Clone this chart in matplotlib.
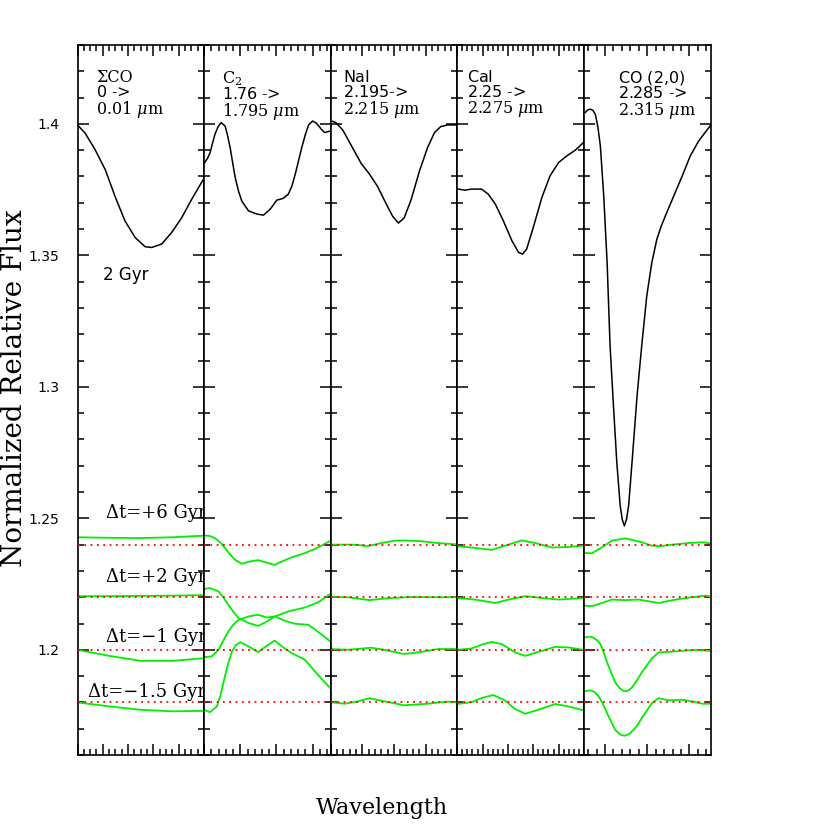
import matplotlib.pyplot as plt
from matplotlib.ticker import MultipleLocator, FormatStrFormatter

plt.rcParams['mathtext.fontset'] = 'dejavuserif'

# wavelength window of each panel (micron)
panel_lo = [0.0, 1.76, 2.195, 2.25, 2.285]
panel_hi = [0.01, 1.795, 2.215, 2.275, 2.315]
panel_major = [0.002, 0.01, 0.005, 0.005, 0.01]
panel_minor = [0.0005, 0.002, 0.001, 0.001, 0.002]
panel_names = ['ΣCO', 'C$_2$', '$\\mathsf{NaI}$', '$\\mathsf{CaI}$', '$\\mathsf{CO\\ (2{,}0)}$']
panel_from = ['$\\mathsf{0}$ ->', '$\\mathsf{1.76}$ ->', '$\\mathsf{2.195}$->',
              '$\\mathsf{2.25}$ ->', '$\\mathsf{2.285}$ ->']
panel_to = ['0.01 $\\mu$m', '1.795 $\\mu$m', '2.215 $\\mu$m', '2.275 $\\mu$m', '2.315 $\\mu$m']
text_pos = [0.146, 0.145, 0.097, 0.077, 0.271]

# age offsets, reference levels of the difference curves
dt_labels = ['Δt=+6 Gyr', 'Δt=+2 Gyr', 'Δt=−1 Gyr', 'Δt=−1.5 Gyr']
dt_levels = [1.24, 1.22, 1.20, 1.18]
dt_label_y = [1.2502, 1.2256, 1.2028, 1.1822]

# 2 Gyr spectrum, black
sco_x = [0, 0.0006, 0.0014, 0.0022, 0.0030, 0.00375, 0.00455, 0.00534, 0.00586,
         0.00665, 0.00744, 0.00824, 0.00903, 0.01]
sco_y = [1.3996, 1.3965, 1.3901, 1.3825, 1.3720, 1.3631, 1.3568, 1.3533, 1.3530,
         1.3543, 1.3587, 1.3644, 1.3714, 1.3794]
c2_x = [1.7600, 1.7608, 1.7616, 1.7623, 1.7630, 1.7639, 1.7647, 1.7658, 1.7665, 1.7672,
        1.7679, 1.7686, 1.7695, 1.7704, 1.7723, 1.7746, 1.7764, 1.7783, 1.7801, 1.7819,
        1.7833, 1.7843, 1.7852, 1.7870, 1.7880, 1.7889, 1.7900, 1.7910, 1.7917, 1.7925,
        1.7933, 1.7949]
c2_y = [1.3850, 1.3866, 1.3888, 1.3925, 1.3961, 1.3990, 1.4005, 1.3992, 1.3955, 1.3910,
        1.3852, 1.3796, 1.3745, 1.3707, 1.3669, 1.3657, 1.3653, 1.3676, 1.3710, 1.3717,
        1.3733, 1.3765, 1.3809, 1.3910, 1.3960, 1.3996, 1.4011, 1.4003, 1.3992, 1.3978,
        1.3967, 1.3973]
nai_x = [2.1950, 2.1958, 2.1969, 2.1982, 2.1998, 2.2011, 2.2024, 2.2037, 2.2048, 2.2057,
         2.2066, 2.2077, 2.2090, 2.2103, 2.2114, 2.2124, 2.2135, 2.2150]
nai_y = [1.4012, 1.4005, 1.3977, 1.3920, 1.3850, 1.3810, 1.3762, 1.3699, 1.3648, 1.3623,
         1.3642, 1.3711, 1.3819, 1.3910, 1.3967, 1.3990, 1.3996, 1.3996]
cai_x = [2.2502, 2.2515, 2.2528, 2.2548, 2.2561, 2.2575, 2.2591, 2.2608, 2.2621, 2.2629,
         2.2637, 2.2650, 2.2667, 2.2683, 2.2700, 2.2716, 2.2733, 2.2749]
cai_y = [1.3752, 1.3748, 1.3752, 1.3752, 1.3733, 1.3695, 1.3631, 1.3555, 1.3511, 1.3505,
         1.3524, 1.3606, 1.3720, 1.3802, 1.3853, 1.3878, 1.3900, 1.3929]
co_x = [2.2853, 2.2859, 2.2865, 2.2871, 2.2877, 2.2883, 2.2889, 2.2897, 2.2905, 2.2912,
        2.2921, 2.2928, 2.2936, 2.2941, 2.2946, 2.2951, 2.2956, 2.2964, 2.2976, 2.2987,
        2.2999, 2.3011, 2.3023, 2.3033, 2.3043, 2.3063, 2.3083, 2.3102, 2.3122, 2.3149]
co_y = [1.4043, 1.4053, 1.4056, 1.4052, 1.4037, 1.3990, 1.3916, 1.3726, 1.3473, 1.3156,
        1.2902, 1.2712, 1.2548, 1.2495, 1.2471, 1.2497, 1.2548, 1.2712, 1.2966, 1.3156,
        1.3346, 1.3473, 1.3562, 1.3610, 1.3650, 1.3726, 1.3802, 1.3878, 1.3935, 1.3992]

# difference spectra (green), one (x, y) pair per age, order +6, +2, -1, -1.5
sco_diff = [
    ([0, 0.0025, 0.005, 0.0075, 0.01], [1.2428, 1.2426, 1.2425, 1.2428, 1.2434]),
    ([0, 0.0025, 0.005, 0.0075, 0.01], [1.2204, 1.2204, 1.2205, 1.2206, 1.2208]),
    ([0, 0.0025, 0.005, 0.0075, 0.01], [1.2000, 1.1977, 1.1958, 1.1958, 1.1968]),
    ([0, 0.0025, 0.005, 0.0075, 0.01], [1.1800, 1.1785, 1.1772, 1.1766, 1.1768]),
]
c2_diff = [
    ([1.7600, 1.7616, 1.7630, 1.7644, 1.7658, 1.7672, 1.7686, 1.7704, 1.7727, 1.7749,
      1.7769, 1.7795, 1.7815, 1.7843, 1.7879, 1.7907, 1.7949],
     [1.2435, 1.2433, 1.2425, 1.2409, 1.2387, 1.2362, 1.2342, 1.2327, 1.2336, 1.2341,
      1.2333, 1.2323, 1.2336, 1.2352, 1.2368, 1.2384, 1.2414]),
    ([1.7600, 1.7616, 1.7640, 1.7654, 1.7667, 1.7681, 1.7695, 1.7723, 1.7749, 1.7769,
      1.7796, 1.7824, 1.7852, 1.7889, 1.7926, 1.7949],
     [1.2231, 1.2235, 1.2222, 1.2198, 1.2171, 1.2144, 1.2121, 1.2102, 1.2091, 1.2104,
      1.2127, 1.2110, 1.2099, 1.2095, 1.2057, 1.2032]),
    ([1.7600, 1.7621, 1.7640, 1.7654, 1.7667, 1.7681, 1.7695, 1.7723, 1.7749, 1.7774,
      1.7796, 1.7833, 1.7879, 1.7916, 1.7949],
     [1.1972, 1.1975, 1.2000, 1.2037, 1.2070, 1.2096, 1.2114, 1.2127, 1.2133, 1.2123,
      1.2127, 1.2146, 1.2161, 1.2181, 1.2213]),
    ([1.7600, 1.7616, 1.7635, 1.7645, 1.7654, 1.7665, 1.7677, 1.7688, 1.7700, 1.7723,
      1.7749, 1.7774, 1.7795, 1.7815, 1.7843, 1.7879, 1.7907, 1.7949],
     [1.1772, 1.1763, 1.1784, 1.1825, 1.1879, 1.1940, 1.1994, 1.2018, 1.2029, 1.2013,
      1.1991, 1.2016, 1.2035, 1.2013, 1.1987, 1.1962, 1.1917, 1.1854]),
]
nai_diff = [
    ([2.1951, 2.1977, 2.1993, 2.2008, 2.2030, 2.2051, 2.2066, 2.2093, 2.2119, 2.2148],
     [1.2400, 1.2400, 1.2399, 1.2394, 1.2406, 1.2415, 1.2416, 1.2413, 1.2406, 1.2401]),
    ([2.1951, 2.1977, 2.2011, 2.2040, 2.2077, 2.2103, 2.2148],
     [1.2201, 1.2200, 1.2189, 1.2196, 1.2201, 1.2200, 1.2200]),
    ([2.1951, 2.1977, 2.2014, 2.2035, 2.2066, 2.2093, 2.2119, 2.2148],
     [1.2003, 1.2000, 1.2008, 1.2000, 1.1984, 1.1992, 1.2003, 1.2003]),
    ([2.1951, 2.1972, 2.1993, 2.2011, 2.2035, 2.2066, 2.2103, 2.2135, 2.2148],
     [1.1800, 1.1795, 1.1804, 1.1816, 1.1804, 1.1789, 1.1795, 1.1803, 1.1800]),
]
cai_diff = [
    ([2.2500, 2.2528, 2.2568, 2.2594, 2.2627, 2.2654, 2.2687, 2.2719, 2.2749],
     [1.2394, 1.2389, 1.2380, 1.2396, 1.2416, 1.2406, 1.2389, 1.2391, 1.2396]),
    ([2.2500, 2.2535, 2.2575, 2.2601, 2.2634, 2.2667, 2.2700, 2.2749],
     [1.2197, 1.2191, 1.2178, 1.2191, 1.2204, 1.2197, 1.2191, 1.2197]),
    ([2.2500, 2.2528, 2.2550, 2.2568, 2.2588, 2.2614, 2.2634, 2.2660, 2.2693, 2.2719,
      2.2749],
     [1.2000, 1.2005, 1.2021, 1.2030, 1.2022, 1.1990, 1.1977, 1.1992, 1.2011, 1.2009,
      1.2000]),
    ([2.2500, 2.2528, 2.2550, 2.2571, 2.2594, 2.2614, 2.2634, 2.2660, 2.2693, 2.2719,
      2.2749],
     [1.1794, 1.1801, 1.1818, 1.1828, 1.1808, 1.1775, 1.1757, 1.1772, 1.1794, 1.1785,
      1.1770]),
]
co_diff = [
    ([2.2852, 2.2869, 2.2893, 2.2916, 2.2948, 2.2987, 2.3011, 2.3031, 2.3059, 2.3098,
      2.3130, 2.3149],
     [1.2368, 1.2367, 1.2390, 1.2415, 1.2424, 1.2409, 1.2396, 1.2394, 1.2400, 1.2406,
      1.2409, 1.2405]),
    ([2.2852, 2.2869, 2.2893, 2.2916, 2.2948, 2.2980, 2.3027, 2.3067, 2.3106, 2.3138,
      2.3149],
     [1.2168, 1.2166, 1.2178, 1.2191, 1.2189, 1.2191, 1.2178, 1.2191, 1.2200, 1.2206,
      1.2203]),
    ([2.2852, 2.2862, 2.2869, 2.2880, 2.2889, 2.2897, 2.2905, 2.2915, 2.2924, 2.2936,
      2.2946, 2.2955, 2.2964, 2.2975, 2.2987, 2.3000, 2.3011, 2.3027, 2.3051, 2.3083,
      2.3114, 2.3149],
     [1.2047, 1.2050, 1.2049, 1.2038, 1.2022, 1.1990, 1.1952, 1.1912, 1.1876, 1.1852,
      1.1842, 1.1845, 1.1857, 1.1882, 1.1914, 1.1943, 1.1967, 1.1990, 1.1992, 1.1996,
      1.2000, 1.1996]),
    ([2.2852, 2.2865, 2.2875, 2.2885, 2.2895, 2.2905, 2.2915, 2.2924, 2.2936, 2.2946,
      2.2957, 2.2968, 2.2978, 2.2987, 2.3000, 2.3011, 2.3027, 2.3051, 2.3083, 2.3106,
      2.3130, 2.3149],
     [1.1842, 1.1846, 1.1840, 1.1823, 1.1795, 1.1759, 1.1725, 1.1696, 1.1678, 1.1673,
      1.1680, 1.1696, 1.1716, 1.1740, 1.1771, 1.1797, 1.1816, 1.1808, 1.1810, 1.1804,
      1.1795, 1.1795]),
]

spec_x = [sco_x, c2_x, nai_x, cai_x, co_x]
spec_y = [sco_y, c2_y, nai_y, cai_y, co_y]
diffs = [sco_diff, c2_diff, nai_diff, cai_diff, co_diff]

fig = plt.figure(figsize=(8.3, 8.3), dpi=100)
left, right = 77.5 / 830, 710.5 / 830
bottom, top = 1 - 755 / 830, 1 - 45 / 830
w = (right - left) / 5

for i in range(5):
    ax = fig.add_axes([left + i * w, bottom, w, top - bottom])
    ax.set_xlim(panel_lo[i], panel_hi[i])
    ax.set_ylim(1.16, 1.43)

    ax.plot(spec_x[i], spec_y[i], color='black', lw=1.1)
    for gx, gy in diffs[i]:
        ax.plot(gx, gy, color='#00ee00', lw=1.3)
    for lev in dt_levels:
        ax.axhline(lev, color='red', lw=1.3, ls=(0, (1, 2.5)), zorder=3)

    ax.xaxis.set_major_locator(MultipleLocator(panel_major[i]))
    ax.xaxis.set_minor_locator(MultipleLocator(panel_minor[i]))
    ax.yaxis.set_major_locator(MultipleLocator(0.05))
    ax.yaxis.set_minor_locator(MultipleLocator(0.01))
    ax.tick_params(which='both', direction='in', top=True, right=True,
                   labelbottom=False, labelleft=(i == 0), width=1.1)
    ax.tick_params(which='major', length=8)
    ax.tick_params(which='minor', length=4)
    ax.tick_params(axis='y', which='major', labelsize=10, pad=13)
    ax.yaxis.set_major_formatter(FormatStrFormatter('%g'))
    for s in ax.spines.values():
        s.set_linewidth(1.2)

    # panel header: line name, window start, window end
    tr = ax.get_yaxis_transform()
    header = panel_names[i] + '\n' + panel_from[i] + '\n' + panel_to[i]
    ax.text(text_pos[i], 1.4207, header, transform=tr, family='DejaVu Serif',
            fontsize=11.5, va='top', linespacing=0.84)

    if i == 0:
        ax.text(0.2, 1.3426, '2 Gyr', transform=tr,
                family='DejaVu Sans', fontsize=12, va='center')
        for lab, ly in zip(dt_labels, dt_label_y):
            ax.text(1.016, ly, lab, transform=tr,
                    family='DejaVu Serif', fontsize=13, ha='right', va='baseline',
                    clip_on=False, zorder=5)

fig.text(15 / 830, 1 - 388 / 830, 'Normalized Relative Flux', rotation=90,
         family='DejaVu Serif', fontsize=20, ha='center', va='center')
fig.text(381.5 / 830, 1 - 808 / 830, 'Wavelength', family='DejaVu Serif',
         fontsize=16, ha='center', va='center')

plt.savefig('out.png', dpi=100)
